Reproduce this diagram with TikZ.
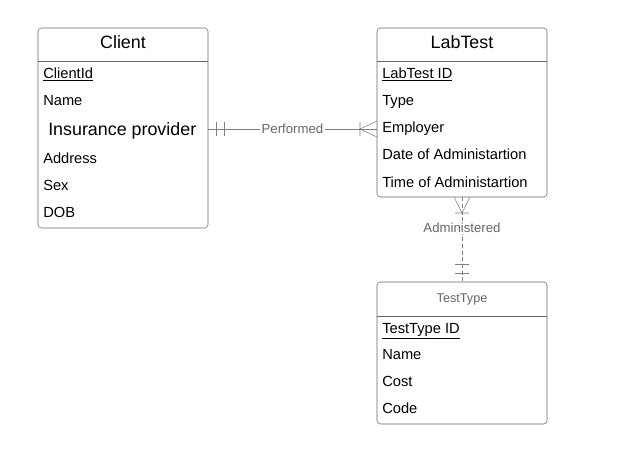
\documentclass[tikz,border=0pt]{standalone}
\usepackage{fontspec}
\setmainfont{Liberation Sans}
\usepackage{tikz}
\usetikzlibrary{positioning}

\begin{document}
\begin{tikzpicture}[
  x=0.75pt, y=-0.75pt,
  entity/.style={draw=black!60, rounded corners=2.5pt, minimum width=127.5pt,
    inner sep=0pt},
  title/.style={anchor=base, inner sep=0pt, font=\fontsize{13.4}{16}\selectfont},
  attr/.style={anchor=base west, inner sep=0pt, font=\fontsize{11}{13}\selectfont},
  rel/.style={draw=black!50},
  rlabel/.style={fill=white, inner sep=1pt, text=black!60,
    font=\fontsize{9.9}{12}\selectfont}
]
\useasboundingbox (0,0) rectangle (630,450);

\node[entity, minimum height=150pt] (client) at (123,128) {};
\node[title] (clientT) at (123,48) {Client};
\draw[black!60] (client.west |- 0,61) -- (client.east |- 0,61);
\node[attr] (cid) at (43,78) {\underline{ClientId}};
\node[attr] (cname) at (43,105) {Name};
\node[attr, font=\fontsize{13.4}{16}\selectfont] (cins) at (48,135) {Insurance provider};
\node[attr] (caddr) at (43,163) {Address};
\node[attr] (csex) at (43,190) {Sex};
\node[attr] (cdob) at (43,217) {DOB};

\node[entity, minimum height=126.75pt] (labtest) at (462,112.5) {};
\node[title] (labtestT) at (462,48) {LabTest};
\draw[black!60] (labtest.west |- 0,61) -- (labtest.east |- 0,61);
\node[attr] (lid) at (382,78) {\underline{LabTest ID}};
\node[attr] (ltype) at (382,105) {Type};
\node[attr] (lemp) at (382,132) {Employer};
\node[attr] (ldate) at (382,159) {Date of Administartion};
\node[attr] (ltime) at (382,187) {Time of Administartion};

\node[entity, minimum height=106.5pt] (testtype) at (462,353) {};
\node[title, text=black!60, font=\fontsize{9.5}{11}\selectfont] (testtypeT) at (462,302) {TestType};
\draw[black!60] (testtype.west |- 0,316) -- (testtype.east |- 0,316);
\node[attr] (tid) at (382,333) {\underline{TestType ID}};
\node[attr] (tname) at (382,359) {Name};
\node[attr] (tcost) at (382,386) {Cost};
\node[attr] (tcode) at (382,413) {Code};

\draw[rel] (client.east |- 0,129) -- node[rlabel] {Performed} (labtest.west |- 0,129);
\draw[rel] (216,122) -- (216,136) (224,122) -- (224,136);
\draw[rel] (377,121) -- (360,129) -- (377,137) (360,122) -- (360,136);

\draw[rel, dash pattern=on 3pt off 2pt] (labtest.south) -- node[rlabel, pos=0.36] {Administered} (testtype.north);
\draw[rel] (454,197) -- (462,213) -- (470,197) (455,213) -- (469,213);
\draw[rel] (455,264) -- (469,264) (455,273) -- (469,273);
\end{tikzpicture}
\end{document}
